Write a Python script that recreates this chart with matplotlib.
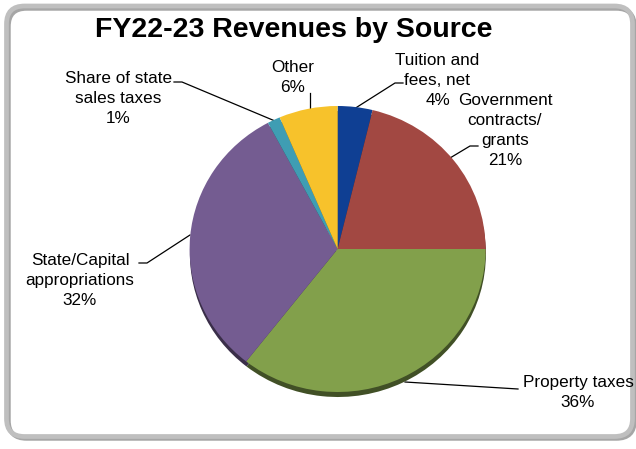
import matplotlib
matplotlib.use("Agg")
import matplotlib.pyplot as plt
from matplotlib.patches import FancyBboxPatch
from matplotlib.colors import to_rgb

plt.rcParams['font.family'] = ['Liberation Sans', 'DejaVu Sans']

# Revenue shares (percent), clockwise from 12 o'clock
sources = ["Tuition and\nfees, net", "Government\ncontracts/\ngrants", "Property taxes",
           "State/Capital\nappropriations", "Share of state\nsales taxes", "Other"]
shares = [3.8, 21.2, 35.6, 31.6, 1.4, 6.4]
colors = ['#0F3F93', '#A24842', '#82A04B', '#745C91', '#3F9DB3', '#F7C22B']
title = "FY22-23 Revenues by Source"

W, H = 636, 449
fig = plt.figure(figsize=(W / 100, H / 100), dpi=100)

# overlay axes in pixel coordinates (y down) for frame, title, labels, leaders
ov = fig.add_axes([0, 0, 1, 1])
ov.set_xlim(0, W)
ov.set_ylim(H, 0)
ov.axis('off')

# rounded grey frame with a faint shadow
shadow = FancyBboxPatch((8.5, 8.5), 626, 430, boxstyle="round,pad=0,rounding_size=18",
                        fill=False, ec='#a6a6a6', lw=3.2)
frame = FancyBboxPatch((6.5, 6), 626, 430.5, boxstyle="round,pad=0,rounding_size=18",
                       fill=False, ec='#bfbfbf', lw=3.4)
ov.add_patch(shadow)
ov.add_patch(frame)

ov.text(95, 37.3, title, fontsize=20.5, fontweight='bold', ha='left', va='baseline')

# pie axes: centre (337.6, 249) px, radii 148 x 143 px
cx, cy, rx, ry = 337.6, 249, 148, 143
lim = 1.1
ax = fig.add_axes([(cx - lim * rx) / W, (H - cy - lim * ry) / H, 2 * lim * rx / W, 2 * lim * ry / H])
dark = [tuple(c * 0.5 for c in to_rgb(col)) for col in colors]
ax.pie(shares, colors=dark, startangle=90, counterclock=False, center=(0.002, -0.035),
       wedgeprops=dict(linewidth=0))
ax.pie(shares, colors=colors, startangle=90, counterclock=False,
       wedgeprops=dict(linewidth=0))
ax.set_aspect('auto')
ax.set_xlim(-lim, lim)
ax.set_ylim(-lim, lim)
ax.axis('off')

# label placement: centre x, first baseline y (px)
label_pos = [(437.5, 65), (505, 105), (578, 387), (80, 265), (118.5, 82.7), (293, 72)]
leaders = [
    [(403, 83), (395, 83), (354, 109)],
    [(478, 146), (470, 146), (450, 158)],
    [(518, 389), (405, 382)],
    [(139, 263), (147, 263), (190, 235)],
    [(174, 82), (182, 82), (275, 121)],
    [(310, 93), (310, 110)],
]

total = sum(shares)
for name, val, (lx, ly), pts in zip(sources, shares, label_pos, leaders):
    lines = name.split("\n") + [f"{val / total * 100:.0f}%"]
    for i, line in enumerate(lines):
        ov.text(lx, ly + i * 20, line, fontsize=12.3, ha='center', va='baseline')
    xs, ys = zip(*pts)
    ov.plot(xs, ys, color='black', lw=0.9)

fig.savefig("out.png", dpi=100)
